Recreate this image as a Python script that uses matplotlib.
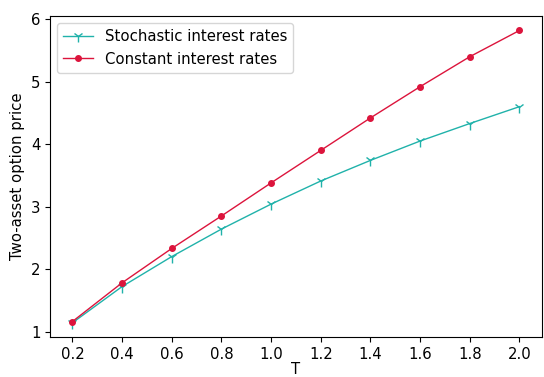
import matplotlib
matplotlib.use("Agg")
import matplotlib.pyplot as plt

maturities = [0.2, 0.4, 0.6, 0.8, 1.0, 1.2, 1.4, 1.6, 1.8, 2.0]
stochastic_prices = [1.14, 1.72, 2.20, 2.64, 3.04, 3.41, 3.74, 4.05, 4.33, 4.60]
constant_prices = [1.16, 1.78, 2.33, 2.85, 3.38, 3.90, 4.42, 4.92, 5.40, 5.82]
x_ticks = [0.2, 0.4, 0.6, 0.8, 1.0, 1.2, 1.4, 1.6, 1.8, 2.0]

plt.rcParams["font.size"] = 10.7

fig, ax = plt.subplots(figsize=(5.44, 3.77), dpi=100)
ax.plot(maturities, stochastic_prices, color="lightseagreen", marker="1",
        markersize=8, linewidth=1, label="Stochastic interest rates")
ax.plot(maturities, constant_prices, color="crimson", marker="o",
        markersize=4, linewidth=1, label="Constant interest rates")

ax.set_xticks(x_ticks)
ax.set_xlabel("T", labelpad=0)
ax.set_ylabel("Two-asset option price")
ax.legend(loc="upper left")
fig.subplots_adjust(left=0.092, right=0.996, top=0.958, bottom=0.105)
fig.savefig("out.png", dpi=100)
